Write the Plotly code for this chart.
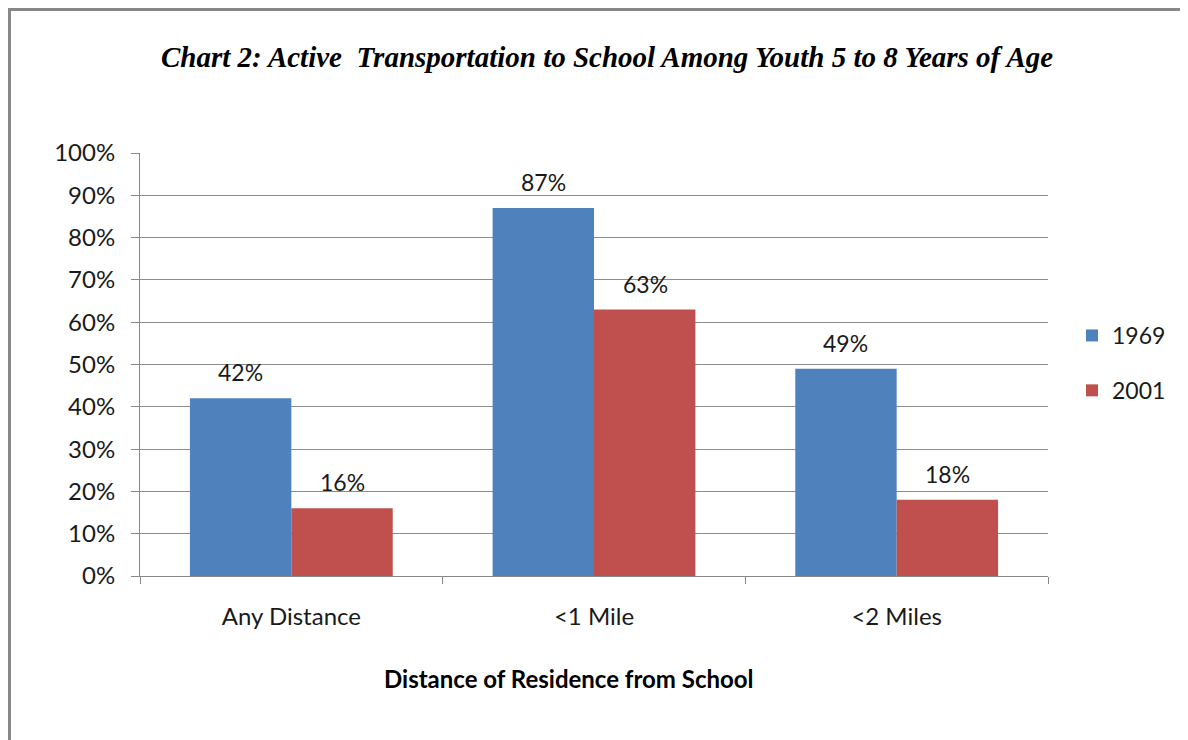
import plotly.graph_objects as go

categories = ["Any Distance", "<1 Mile", "<2 Miles"]
series_names = ["1969", "2001"]
values_1969 = [0.42, 0.87, 0.49]
values_2001 = [0.16, 0.63, 0.18]
colors = ["#4F81BD", "#C0504D"]

# page body has an 8px margin, so figure coordinates = reference - 8
W, H = 1180, 732
L, R, T, B = 132, 140, 145, 164
pw, ph = W - L - R, H - T - B

SANS = "Lato, Noto Sans, sans-serif"

fig = go.Figure()
for name, vals, col in zip(series_names, [values_1969, values_2001], colors):
    fig.add_trace(go.Bar(x=categories, y=vals, name=name, legendgroup=name,
                         marker=dict(color=col, line=dict(width=0))))

label_font = dict(family=SANS, size=23, color="#1a1a1a")
annotations = []
for vals, shift in zip([values_1969, values_2001], [-51, 51]):
    for c, v in zip(categories, vals):
        annotations.append(dict(x=c, y=v, xref="x", yref="y", text=f"{round(v*100)}%",
                                showarrow=False, xshift=shift, yshift=26, yanchor="middle", font=label_font))

annotations.append(dict(text="<b>Distance of Residence from School</b>", x=(561 - L) / pw, y=(H - 670 - B) / ph,
                        xref="paper", yref="paper", showarrow=False, xanchor="center", yanchor="middle",
                        font=dict(family=SANS, size=24, color="#000000")))
annotations.append(dict(text="<b><i>Chart 2: Active  Transportation to School Among Youth 5 to 8 Years of Age</i></b>",
                        x=(599 - L) / pw, y=(H - 49 - B) / ph, xref="paper", yref="paper", showarrow=False,
                        xanchor="center", yanchor="middle",
                        font=dict(family="Liberation Serif, Times New Roman, serif", size=29, color="#000000")))

shapes = [
    dict(type="line", xref="paper", yref="paper", x0=(0 - L) / pw, x1=(W + 10 - L) / pw,
         y0=(H - 1.5 - B) / ph, y1=(H - 1.5 - B) / ph, line=dict(color="#888888", width=3)),
    dict(type="line", xref="paper", yref="paper", x0=(1.5 - L) / pw, x1=(1.5 - L) / pw,
         y0=(H - 0 - B) / ph, y1=-(B + 10) / ph, line=dict(color="#888888", width=3)),
]

fig.update_layout(
    width=W, height=H,
    margin=dict(l=L, r=R, t=T, b=B, autoexpand=False),
    paper_bgcolor="white", plot_bgcolor="white",
    barmode="group", bargap=0.33, bargroupgap=0,
    showlegend=True,
    legend=dict(x=(1064 - L) / pw, y=(H - 306 - B) / ph, xanchor="left", yanchor="top",
                font=dict(family=SANS, size=23, color="#1a1a1a"),
                tracegroupgap=22, itemsizing="constant", bgcolor="rgba(0,0,0,0)"),
    annotations=annotations,
    shapes=shapes,
    xaxis=dict(showline=True, linecolor="#888888", linewidth=1, ticks="outside", tickson="boundaries",
               ticklen=7, tickcolor="#888888", ticklabelstandoff=19,
               tickfont=dict(family=SANS, size=24, color="#1a1a1a"),
               showgrid=False, fixedrange=True),
    yaxis=dict(range=[0, 1], dtick=0.1, tickformat=".0%", showline=True, linecolor="#888888", linewidth=1,
               ticks="outside", ticklen=8, tickcolor="#888888", ticklabelstandoff=11,
               showgrid=True, gridcolor="#8c8c8c", gridwidth=1,
               zeroline=False, tickfont=dict(family=SANS, size=24, color="#1a1a1a"),
               fixedrange=True),
)

fig.write_html("out.html")
